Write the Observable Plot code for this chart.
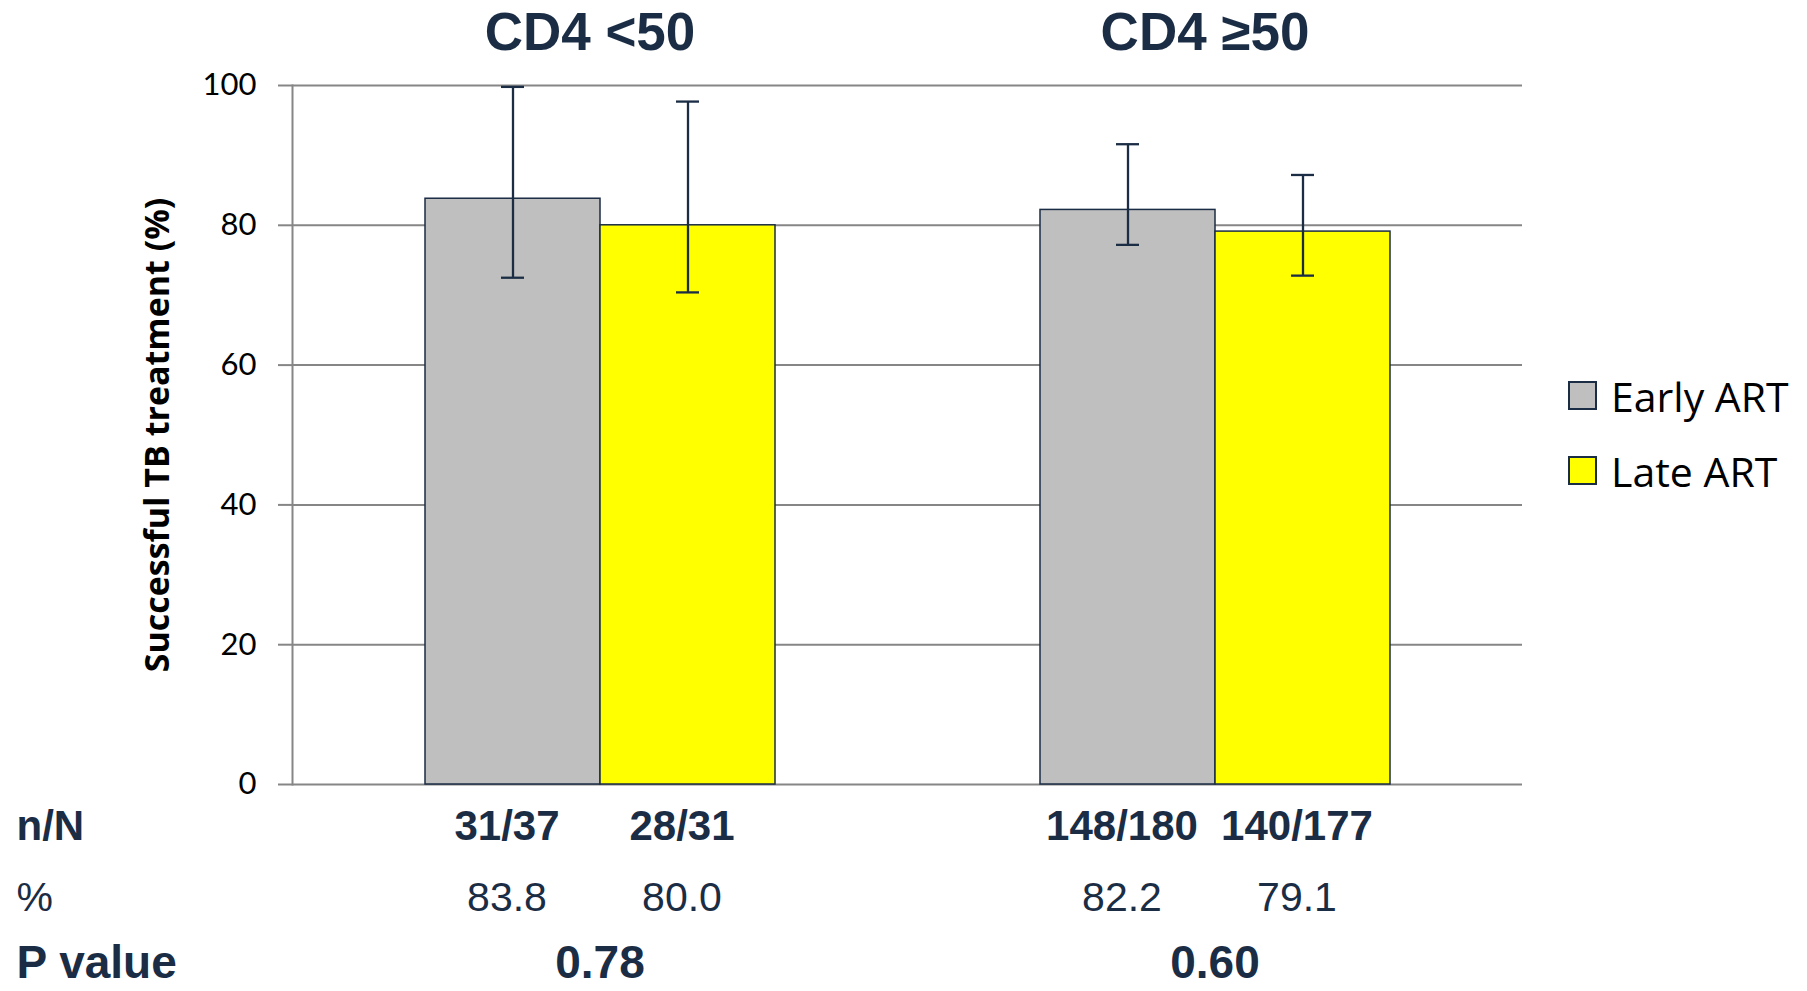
<!DOCTYPE html>
<html><head><meta charset="utf-8">
<script src="https://cdn.jsdelivr.net/npm/d3@7"></script>
<script src="https://cdn.jsdelivr.net/npm/@observablehq/plot@0.6"></script>
<style>
body{margin:0;background:#fff;}
#wrap{position:relative;width:1807px;height:991px;overflow:hidden;}
#legend{position:absolute;left:1568px;top:358px;font-family:"Open Sans",sans-serif;font-size:41px;color:#000;}
#legend .row{display:flex;align-items:center;height:75px;}
#legend .sw{width:25px;height:25px;border:2px solid #1b2d45;margin-right:14px;}
</style></head><body><div id="wrap"><div id="legend"></div></div>
<script>
const groups = ["CD4 <50", "CD4 ≥50"];
const arms = ["Early ART", "Late ART"];
const armColors = ["#bfbfbf", "#ffff00"];
const pct = [83.8, 80.0, 82.2, 79.1];
const errLow = [72.5, 70.4, 77.2, 72.8];
const errHigh = [99.8, 97.7, 91.6, 87.2];
const nN = ["31/37", "28/31", "148/180", "140/177"];
const pctText = ["83.8", "80.0", "82.2", "79.1"];
const pValues = ["0.78", "0.60"];
const yTicks = [0, 20, 40, 60, 80, 100];
const rowLabels = ["n/N", "%", "P value"];
const yLabel = "Successful TB treatment (%)";

const rows = pct.map((v, i) => ({
  group: groups[Math.floor(i / 2)], arm: arms[i % 2], pct: v,
  lo: errLow[i], hi: errHigh[i], nN: nN[i], pctText: pctText[i]
}));
const pRows = groups.map((g, i) => ({group: g, p: pValues[i]}));

const navy = "#1b2d45";
const grid = "#868686";
const boldFont = "Liberation Sans, Arial, sans-serif";
const first = () => groups[0];

const chart = Plot.plot({
  width: 1807, height: 991,
  marginLeft: 292, marginRight: 285, marginTop: 85, marginBottom: 207,
  style: {background: "white", overflow: "visible"},
  fx: {domain: groups, padding: 0, axis: null},
  x: {domain: arms, paddingInner: 0, paddingOuter: 0.752, axis: null},
  y: {domain: [0, 100], axis: null},
  color: {domain: arms, range: armColors},
  marks: [
    Plot.gridY(yTicks, {stroke: grid, strokeOpacity: 1, strokeWidth: 2}),
    Plot.axisY(yTicks, {tickSize: 14, tickPadding: 22, stroke: grid, strokeWidth: 2, fill: "#000",
      fontSize: 31, fontFamily: "Lato, sans-serif", label: null}),
    Plot.frame({anchor: "left", facetAnchor: "left", stroke: grid, strokeWidth: 2}),
    Plot.barY(rows, {fx: "group", x: "arm", y: "pct", fill: "arm", stroke: navy, strokeWidth: 1.5}),
    Plot.ruleX(rows, {fx: "group", x: "arm", y1: "lo", y2: "hi", stroke: navy, strokeWidth: 2.3}),
    Plot.tickY(rows, {fx: "group", x: "arm", y: "hi", stroke: navy, strokeWidth: 2.3, insetLeft: 76, insetRight: 76}),
    Plot.tickY(rows, {fx: "group", x: "arm", y: "lo", stroke: navy, strokeWidth: 2.3, insetLeft: 76, insetRight: 76}),
    // group titles
    Plot.text(groups, {fx: d => d, text: d => d, frameAnchor: "top", lineAnchor: "middle", dy: -52, dx: -10,
      fontSize: 53, fontWeight: "bold", fontFamily: boldFont, fill: navy}),
    // y axis title
    Plot.text([yLabel], {fx: first, text: d => d, frameAnchor: "left", textAnchor: "middle", lineAnchor: "middle",
      dx: -134, rotate: -90, fontSize: 34, fontWeight: "bold", fontFamily: "Open Sans, sans-serif", fill: "#000"}),
    // table rows
    Plot.text(rows, {fx: "group", x: "arm", text: "nN", frameAnchor: "bottom", lineAnchor: "middle", dy: 42, dx: -6,
      fontSize: 42, fontWeight: "bold", fontFamily: boldFont, fill: navy}),
    Plot.text(rows, {fx: "group", x: "arm", text: "pctText", frameAnchor: "bottom", lineAnchor: "middle", dy: 113, dx: -6,
      fontSize: 41, fontFamily: boldFont, fill: navy}),
    Plot.text(pRows, {fx: "group", text: "p", frameAnchor: "bottom", lineAnchor: "middle", dy: 179,
      fontSize: 46, fontWeight: "bold", fontFamily: boldFont, fill: navy}),
    Plot.text([rowLabels[0]], {fx: first, text: d => d, frameAnchor: "bottom-left", textAnchor: "start", lineAnchor: "middle",
      dx: -276, dy: 42, fontSize: 42, fontWeight: "bold", fontFamily: boldFont, fill: navy}),
    Plot.text([rowLabels[1]], {fx: first, text: d => d, frameAnchor: "bottom-left", textAnchor: "start", lineAnchor: "middle",
      dx: -276, dy: 113, fontSize: 41, fontFamily: boldFont, fill: navy}),
    Plot.text([rowLabels[2]], {fx: first, text: d => d, frameAnchor: "bottom-left", textAnchor: "start", lineAnchor: "middle",
      dx: -276, dy: 179, fontSize: 46, fontWeight: "bold", fontFamily: boldFont, fill: navy})
  ]
});
const wrap = document.getElementById("wrap");
wrap.insertBefore(chart, wrap.firstChild);

const colorScale = chart.scale("color");
const legend = document.getElementById("legend");
colorScale.domain.forEach((d, i) => {
  const row = document.createElement("div");
  row.className = "row";
  const sw = document.createElement("div");
  sw.className = "sw";
  sw.style.background = colorScale.range[i];
  const label = document.createElement("span");
  label.textContent = d;
  row.appendChild(sw);
  row.appendChild(label);
  legend.appendChild(row);
});
</script>
</body></html>
